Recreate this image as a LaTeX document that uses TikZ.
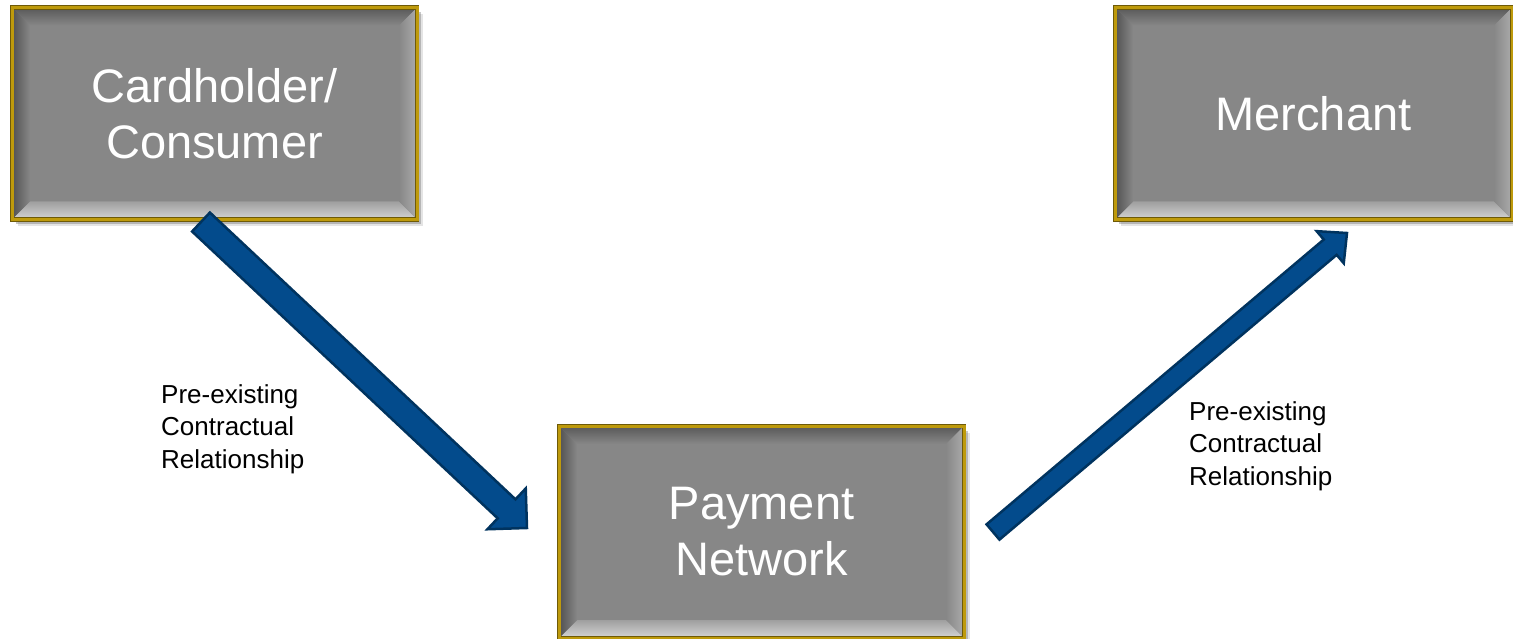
\documentclass[tikz,border=0pt]{standalone}
\usepackage{fontspec}
\setmainfont{Liberation Sans}
\usetikzlibrary{calc,shadows}
\definecolor{boxgray}{HTML}{878787}
\definecolor{goldmain}{HTML}{BE9A0C}
\definecolor{golddark}{HTML}{6E5A08}
\definecolor{arrowblue}{HTML}{034B8C}
\definecolor{arrowdark}{HTML}{00335F}
\newcommand\mybevels{%
  \def\bvw{18pt}%
  \coordinate (bnw) at (path picture bounding box.north west);
  \coordinate (bne) at (path picture bounding box.north east);
  \coordinate (bsw) at (path picture bounding box.south west);
  \coordinate (bse) at (path picture bounding box.south east);
  \shade[top color=black!35!boxgray, bottom color=boxgray]
    (bnw) -- (bne) -- ([xshift=-\bvw,yshift=-\bvw]bne) -- ([xshift=\bvw,yshift=-\bvw]bnw) -- cycle;
  \shade[top color=boxgray!80!white, bottom color=boxgray!35!white]
    (bsw) -- (bse) -- ([xshift=-\bvw,yshift=\bvw]bse) -- ([xshift=\bvw,yshift=\bvw]bsw) -- cycle;
  \shade[left color=black!40!boxgray, right color=boxgray]
    (bnw) -- ([xshift=\bvw,yshift=-\bvw]bnw) -- ([xshift=\bvw,yshift=\bvw]bsw) -- (bsw) -- cycle;
  \shade[left color=boxgray, right color=boxgray!70!white]
    (bne) -- ([xshift=-\bvw,yshift=-\bvw]bne) -- ([xshift=-\bvw,yshift=\bvw]bse) -- (bse) -- cycle;
}
\tikzset{
  bevelbox/.style={rectangle, inner sep=0pt, minimum width=405pt, minimum height=212pt,
    fill=boxgray, draw=golddark, line width=0.9pt, double=goldmain, double distance=3pt,
    text=white, font=\fontsize{47}{56}\selectfont, align=center,
    drop shadow={shadow xshift=6pt, shadow yshift=-7pt, opacity=0.15, fill=black!70},
    drop shadow={shadow xshift=4pt, shadow yshift=-5pt, opacity=0.3, fill=black!70},
    path picture={\mybevels}},
  relabel/.style={anchor=west, align=left, inner sep=0pt, text=black,
    font=\fontsize{26}{32.5}\selectfont},
  fatarrow/.style={fill=arrowblue, draw=arrowdark, line width=2.5pt, line join=miter}
}
\newcommand\fatarrow[5]{% tail, tip, half shaft, half head, head length
  \path ($(#2)!#5!(#1)$) coordinate (hb);
  \draw[fatarrow] ($(#1)!#3!90:(#2)$) -- ($(hb)!#3!90:(#2)$) -- ($(hb)!#4!90:(#2)$)
    -- (#2) -- ($(hb)!#4!-90:(#2)$) -- ($(hb)!#3!-90:(#2)$) -- ($(#1)!#3!-90:(#2)$) -- cycle;
}
\begin{document}
\begin{tikzpicture}[x=1pt,y=-1pt]
\useasboundingbox[fill=white] (0,0) rectangle (1513,639);
\node[bevelbox] (card) at (214.5,113.5) {Cardholder/\\Consumer};
\node[bevelbox] (pay) at (761.5,532) {Payment\\Network};
\node[bevelbox, minimum width=397pt] (merch) at (1313.5,113.5) {Merchant};
\coordinate (t1) at (201,222);
\coordinate (h1) at (527,528);
\coordinate (t2) at (993,532);
\coordinate (h2) at (1347,233);
\fatarrow{t1}{h1}{13pt}{28pt}{28pt}
\fatarrow{t2}{h2}{10pt}{21pt}{22pt}
\node[relabel] (lab1) at (161,429) {Pre-existing\\Contractual\\Relationship};
\node[relabel] (lab2) at (1189,446) {Pre-existing\\Contractual\\Relationship};
\end{tikzpicture}
\end{document}
